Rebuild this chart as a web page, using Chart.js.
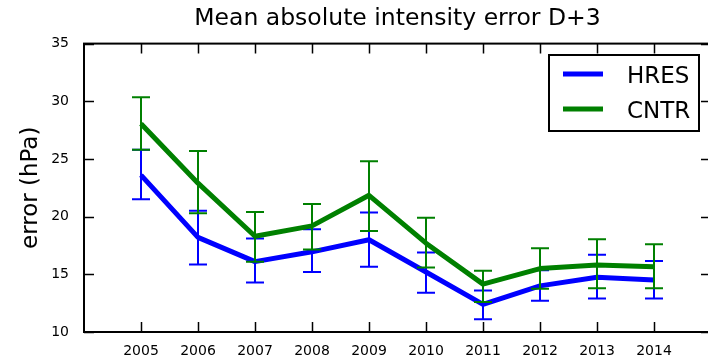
<!DOCTYPE html>
<html>
<head>
<meta charset="utf-8">
<script src="https://cdn.jsdelivr.net/npm/chart.js@4/dist/chart.umd.min.js"></script>
<style>
  body { margin: 0; overflow: hidden; background: #fff; }
  #wrap { width: 711px; height: 361px; }
</style>
</head>
<body>
<div id="wrap"><canvas id="err-chart"></canvas></div>
<script>
// values
const years = [2005, 2006, 2007, 2008, 2009, 2010, 2011, 2012, 2013, 2014];
const yTicks = [10, 15, 20, 25, 30, 35];

const hres = [23.6, 18.2, 16.1, 16.95, 18.0, 15.2, 12.4, 14.0, 14.75, 14.5];
const hresLow = [21.5, 15.85, 14.3, 15.2, 15.65, 13.4, 11.1, 12.7, 12.9, 12.9];
const hresHigh = [25.8, 20.5, 18.1, 18.9, 20.35, 16.9, 13.6, 15.35, 16.7, 16.15];

const cntr = [28.05, 22.9, 18.3, 19.2, 21.85, 17.7, 14.15, 15.5, 15.8, 15.65];
const cntrLow = [25.8, 20.3, 16.1, 17.15, 18.75, 15.6, 12.6, 13.75, 13.8, 13.8];
const cntrHigh = [30.35, 25.7, 20.4, 21.1, 24.8, 19.9, 15.3, 17.25, 18.05, 17.6];

const FONT = "'DejaVu Sans', sans-serif";

function pts(vals) {
  return years.map((y, i) => ({ x: y, y: vals[i] }));
}

// error bars drawn just before each line
const errorBars = {
  id: "errorBars",
  beforeDatasetDraw(chart, args) {
    const ds = chart.data.datasets[args.index];
    const xs = chart.scales.x, ys = chart.scales.y;
    const c = chart.ctx;
    c.save();
    c.strokeStyle = ds.borderColor;
    c.lineWidth = 2;
    years.forEach((yr, i) => {
      const px = xs.getPixelForValue(yr);
      const lo = ys.getPixelForValue(ds.low[i]);
      const hi = ys.getPixelForValue(ds.high[i]);
      c.beginPath();
      c.moveTo(px, lo); c.lineTo(px, hi);
      c.moveTo(px - 9, lo); c.lineTo(px + 9, lo);
      c.moveTo(px - 9, hi); c.lineTo(px + 9, hi);
      c.stroke();
    });
    c.restore();
  }
};

// matplotlib style frame with inward ticks, plus boxed legend
const frame = {
  id: "frame",
  afterDraw(chart) {
    const a = chart.chartArea, c = chart.ctx;
    const xs = chart.scales.x, ys = chart.scales.y;
    c.save();
    c.strokeStyle = "#000";
    c.lineWidth = 1.5;
    c.beginPath();
    years.forEach(yr => {
      const px = Math.round(xs.getPixelForValue(yr)) + 0.5;
      c.moveTo(px, a.bottom); c.lineTo(px, a.bottom - 10);
      c.moveTo(px, a.top); c.lineTo(px, a.top + 10);
    });
    yTicks.forEach(v => {
      const py = Math.round(ys.getPixelForValue(v)) + 0.5;
      c.moveTo(a.left, py); c.lineTo(a.left + 10, py);
      c.moveTo(a.right, py); c.lineTo(a.right - 10, py);
    });
    c.stroke();
    c.lineWidth = 2;
    c.strokeRect(a.left, a.top, a.right - a.left, a.bottom - a.top);

    // legend
    const bx = 549, by = 55, bw = 150, bh = 76;
    c.fillStyle = "#fff";
    c.fillRect(bx, by, bw, bh);
    c.strokeRect(bx, by, bw, bh);
    c.font = "23px " + FONT;
    c.textBaseline = "alphabetic";
    c.textAlign = "left";
    const rows = [74, 109];
    chart.data.datasets.forEach((ds, i) => {
      const ry = rows[i];
      c.strokeStyle = ds.borderColor;
      c.lineWidth = 5;
      c.beginPath();
      c.moveTo(563, ry); c.lineTo(603, ry);
      c.stroke();
      c.fillStyle = "#000";
      c.fillText(ds.label, 627, ry + 8.5);
    });
    c.restore();
  }
};

const ctx = document.getElementById("err-chart").getContext("2d");
new Chart(ctx, {
  type: "line",
  data: {
    datasets: [
      {
        label: "HRES",
        data: pts(hres),
        low: hresLow,
        high: hresHigh,
        borderColor: "#0000ff",
        borderWidth: 5,
        pointRadius: 0,
        tension: 0,
        borderJoinStyle: "round",
        order: 1
      },
      {
        label: "CNTR",
        data: pts(cntr),
        low: cntrLow,
        high: cntrHigh,
        borderColor: "#008000",
        borderWidth: 5,
        pointRadius: 0,
        tension: 0,
        borderJoinStyle: "round",
        order: 0
      }
    ]
  },
  options: {
    responsive: true,
    maintainAspectRatio: false,
    animation: false,
    layout: { padding: 0 },
    scales: {
      x: {
        type: "linear",
        min: 2004,
        max: 2015,
        grid: { display: false, drawTicks: false },
        border: { display: false },
        afterBuildTicks: s => { s.ticks = years.map(v => ({ value: v })); },
        afterFit: s => { s.height = 29; },
        ticks: {
          color: "#000",
          padding: 11,
          maxRotation: 0,
          autoSkip: false,
          font: { family: FONT, size: 14 },
          callback: v => String(v)
        }
      },
      y: {
        min: 10,
        max: 35,
        grid: { display: false, drawTicks: false },
        border: { display: false },
        afterBuildTicks: s => { s.ticks = yTicks.map(v => ({ value: v })); },
        afterFit: s => { s.width = 84; },
        ticks: {
          color: "#000",
          padding: 15,
          font: { family: FONT, size: 14 }
        },
        title: {
          display: true,
          text: "error (hPa)",
          color: "#000",
          padding: { top: 17, bottom: 0 },
          font: { family: FONT, size: 23 }
        }
      }
    },
    plugins: {
      legend: { display: false },
      tooltip: { enabled: false },
      title: {
        display: true,
        fullSize: false,
        text: "Mean absolute intensity error D+3",
        color: "#000",
        padding: { top: 5, bottom: 10.4 },
        font: { family: FONT, size: 23.5, weight: "normal", lineHeight: 1.2 }
      }
    }
  },
  plugins: [errorBars, frame]
});
</script>
</body>
</html>
